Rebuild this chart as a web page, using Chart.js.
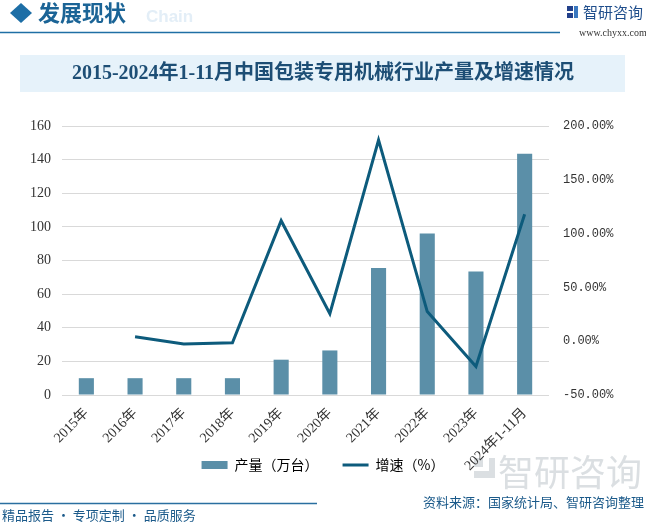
<!DOCTYPE html>
<html>
<head>
<meta charset="utf-8">
<script src="https://cdn.jsdelivr.net/npm/chart.js@4.4.1/dist/chart.umd.min.js"></script>
<style>
html,body{margin:0;padding:0;background:#fff;}
#wrap{width:646px;height:523px;position:relative;}
</style>
</head>
<body>
<div id="wrap"><canvas id="c" width="646" height="523"></canvas></div>
<script>
const categories = ['2015年','2016年','2017年','2018年','2019年','2020年','2021年','2022年','2023年','2024年1-11月'];
const output = [10, 10, 10, 10, 21, 26.5, 75.5, 96, 73.5, 143.5];
const growth = [null, 4.1, -2.7, -1.5, 112, 25.5, 187, 27.5, -23.5, 118];
const seriesNames = ['产量（万台）', '增速（%）'];
const leftTicks = [0, 160, 20];
const rightTicks = [-50, 200, 50];
const titleText = '2015-2024年1-11月中国包装专用机械行业产量及增速情况';
const sourceText = '资料来源：国家统计局、智研咨询整理';
const sloganText = '精品报告 · 专项定制 · 品质服务';

const barColor = '#5b8fa8';
const lineColor = '#0d5b7c';
const CJK = '"Noto Sans CJK SC"';

const decor = {
  id: 'decor',
  afterLayout(chart) {
    const lg = chart.legend;
    if (lg) {
      const h = lg.bottom - lg.top;
      lg.top = 434;
      lg.bottom = 434 + h;
    }
  },
  beforeDraw(chart) {
    const ctx = chart.ctx;
    ctx.save();
    ctx.fillStyle = '#ffffff';
    ctx.fillRect(0, 0, 646, 523);

    // watermark bottom right
    ctx.fillStyle = 'rgba(190,196,202,0.55)';
    ctx.font = '36px ' + CJK;
    ctx.textBaseline = 'middle';
    ctx.fillText('智研咨询', 498, 472);
    ctx.fillRect(474, 458, 9, 9);
    ctx.fillRect(474, 471, 15, 7);
    ctx.fillRect(489, 458, 6, 20);

    // header diamond
    ctx.fillStyle = '#1d6ea6';
    ctx.beginPath();
    ctx.moveTo(21, 3); ctx.lineTo(32, 13); ctx.lineTo(21, 23); ctx.lineTo(10, 13);
    ctx.closePath(); ctx.fill();
    // faded english
    ctx.fillStyle = '#e3eef7';
    ctx.font = 'bold 17px "Liberation Sans"';
    ctx.textBaseline = 'middle';
    ctx.fillText('Chain', 146, 17);
    ctx.fillStyle = '#1b6496';
    ctx.font = 'bold 22px ' + CJK;
    ctx.fillText('发展现状', 38, 13);
    // header line
    ctx.strokeStyle = '#1f6fa5';
    ctx.lineWidth = 1.5;
    ctx.beginPath(); ctx.moveTo(0, 32.5); ctx.lineTo(560, 32.5); ctx.stroke();
    // logo
    ctx.fillStyle = '#22408a';
    ctx.fillRect(567, 6, 6, 5);
    ctx.fillRect(567, 13, 6, 5);
    ctx.fillStyle = '#3a78c0';
    ctx.fillRect(574, 6, 4, 12);
    ctx.fillStyle = '#1f4e8c';
    ctx.font = '15px ' + CJK;
    ctx.fillText('智研咨询', 583, 12);
    ctx.fillStyle = '#333';
    ctx.font = '10px "Liberation Serif"';
    ctx.fillText('www.chyxx.com', 579, 33);

    // title box
    ctx.fillStyle = '#e6f2fa';
    ctx.fillRect(20, 55, 605, 37);
    ctx.fillStyle = '#1d4e75';
    ctx.font = 'bold 20px "Liberation Serif", ' + CJK;
    ctx.textAlign = 'center';
    ctx.fillText(titleText, 323, 74);

    // footer
    ctx.textAlign = 'left';
    ctx.strokeStyle = '#2a6fa0';
    ctx.lineWidth = 1.5;
    ctx.beginPath(); ctx.moveTo(0, 503.5); ctx.lineTo(317, 503.5); ctx.stroke();
    ctx.fillStyle = '#1b5a8a';
    ctx.font = '13px ' + CJK;
    ctx.fillText(sloganText, 2, 515);
    ctx.textAlign = 'right';
    ctx.fillText(sourceText, 644, 502);
    ctx.restore();
  }
};

new Chart(document.getElementById('c'), {
  data: {
    labels: categories,
    datasets: [
      { type: 'bar', label: seriesNames[0], data: output, backgroundColor: barColor,
        yAxisID: 'y', order: 2, barPercentage: 0.31, categoryPercentage: 1 },
      { type: 'line', label: seriesNames[1], data: growth, borderColor: lineColor,
        backgroundColor: lineColor, borderWidth: 3, pointRadius: 0, tension: 0,
        yAxisID: 'y1', order: 1, spanGaps: false }
    ]
  },
  options: {
    responsive: false,
    animation: false,
    devicePixelRatio: 1,
    layout: { padding: { top: 126, left: 0, right: 0, bottom: 0 } },
    plugins: {
      tooltip: { enabled: false },
      legend: {
        position: 'bottom',
        labels: {
          usePointStyle: true,
          pointStyleWidth: 26,
          boxHeight: 8,
          padding: 24,
          color: '#333',
          font: { size: 14, family: CJK },
          generateLabels: () => [
            { text: seriesNames[0], fillStyle: barColor, strokeStyle: barColor, lineWidth: 0, pointStyle: 'rect', datasetIndex: 0, hidden: false },
            { text: seriesNames[1], fillStyle: lineColor, strokeStyle: lineColor, lineWidth: 3, pointStyle: 'line', datasetIndex: 1, hidden: false }
          ]
        }
      }
    },
    scales: {
      x: {
        grid: { display: false },
        border: { display: false },
        ticks: { maxRotation: 45, minRotation: 45, autoSkip: false, color: '#333', padding: 2,
          font: { size: 14, family: '"Liberation Serif", ' + CJK } },
        afterFit(s) { s.height = 80; }
      },
      y: {
        position: 'left',
        min: leftTicks[0], max: leftTicks[1],
        ticks: { stepSize: leftTicks[2], color: '#333', padding: 11,
          font: { size: 14, family: '"Liberation Serif"' } },
        grid: { color: '#d9d9d9', drawTicks: false },
        border: { display: false },
        afterFit(s) { s.width = 62; }
      },
      y1: {
        position: 'right',
        min: rightTicks[0], max: rightTicks[1],
        ticks: { stepSize: rightTicks[2], color: '#333', padding: 6,
          callback: v => v.toFixed(2) + '%',
          font: { size: 12, family: '"Liberation Mono"' } },
        grid: { display: false },
        border: { display: false },
        afterFit(s) { s.width = 97; }
      }
    }
  },
  plugins: [decor]
});
</script>
</body>
</html>
